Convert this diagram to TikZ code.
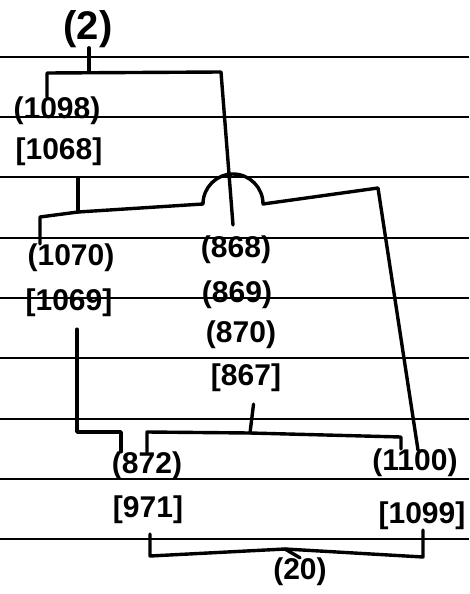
\documentclass[tikz,border=0pt]{standalone}
\usepackage{fontspec}
\setmainfont{Liberation Sans}
\begin{document}
\begin{tikzpicture}[x=1pt,y=-1pt,
  conn/.style={line width=3.4pt, line join=round, line cap=round},
  rule/.style={line width=2.6pt},
  lab/.style={inner sep=0pt, font=\fontsize{30}{30}\selectfont\bfseries},
  big/.style={inner sep=0pt, font=\fontsize{40}{40}\selectfont\bfseries}]
\useasboundingbox (0,0) rectangle (469,594);
\fill[white] (0,0) rectangle (469,594);
% ruled paper
\foreach \yy in {57,117,177,238,298,358,419,479,539}
  \draw[rule] (0,\yy) -- (469,\yy);
% labels
\node[big] (n2) at (88,29) {(2)};
\node[lab] (n1098) at (57,111) {(1098)};
\node[lab] (n1068) at (59,152) {[1068]};
\node[lab] (n1070) at (71,258) {(1070)};
\node[lab] (n1069) at (69,303) {[1069]};
\node[lab] (n868) at (236,250) {(868)};
\node[lab] (n869) at (237,295) {(869)};
\node[lab] (n870) at (241,335) {(870)};
\node[lab] (n867) at (246,378) {[867]};
\node[lab] (n872) at (147,466) {(872)};
\node[lab] (n1100) at (415,463) {(1100)};
\node[lab] (n971) at (148,510) {[971]};
\node[lab] (n1099) at (422,516) {[1099]};
\node[lab] (n20) at (300,572) {(20)};
% junction coordinates
\coordinate (a0) at (89,72);
\coordinate (a1) at (47,73);
\coordinate (a2) at (221,72);
\coordinate (a3) at (233,225);
\coordinate (b0) at (40,217);
\coordinate (b1) at (78,212);
\coordinate (b2) at (203,204);
\coordinate (b3) at (378,188);
\coordinate (b4) at (418,450);
\coordinate (c1) at (77,432);
\coordinate (c2) at (121,432);
\coordinate (d0) at (147,432);
\coordinate (d1) at (250,433);
\coordinate (d2) at (401,437);
\coordinate (e1) at (150,556);
\coordinate (em) at (285,549);
\coordinate (e2) at (423,557);
% connectors
\draw[conn] (n2.south -| a0) -- (a0);
\draw[conn] (n1098.north -| a1) -- (a1) -- (a2) -- (a3);
\draw[conn, shorten <=12pt] (n1068.south -| b1) -- (b1);
\draw[conn] (n1070.north -| b0) -- (b0) -- (b1) -- (b2)
  arc[start angle=180, end angle=360, radius=30] -- (b3) -- (b4);
\draw[conn, shorten <=12pt] (n1069.south -| c1) -- (c1) -- (c2) -- (n872.north -| c2);
\draw[conn, shorten <=12pt] ([xshift=9pt]n867.south) -- (d1);
\draw[conn] (n872.north -| d0) -- (d0) -- (d1) -- (d2) -- (n1100.north -| d2);
\draw[conn, shorten <=10pt] (n971.south -| e1) -- (e1) -- (em) -- (e2) -- (n1099.south -| e2);
\draw[conn] (em) -- (n20.north);
\end{tikzpicture}
\end{document}
